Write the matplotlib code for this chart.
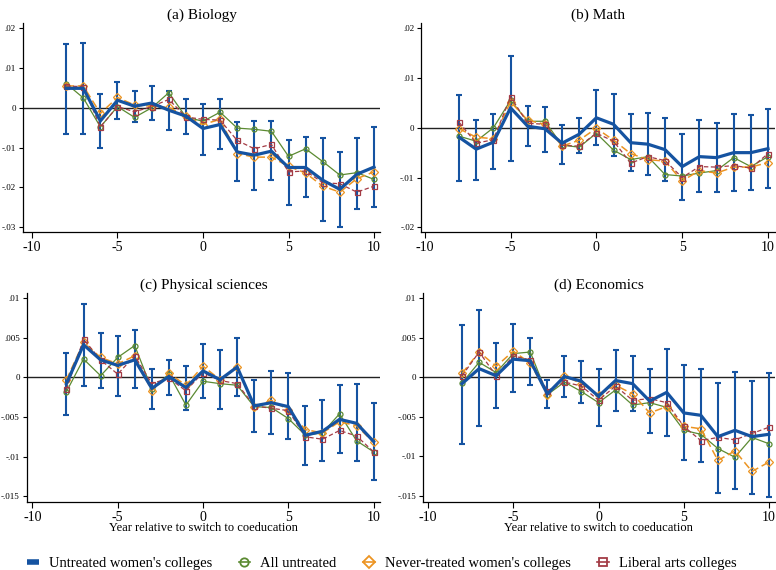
import matplotlib
matplotlib.use("Agg")
import matplotlib.pyplot as plt
from matplotlib.lines import Line2D
import numpy as np

plt.rcParams['font.family'] = ['Liberation Serif', 'DejaVu Serif']

years = list(range(-8, 11))

series_names = ["Untreated women's colleges", "All untreated",
                "Never-treated women's colleges", "Liberal arts colleges"]
panel_titles = ["(a) Biology", "(b) Math", "(c) Physical sciences", "(d) Economics"]
xlabel_text = "Year relative to switch to coeducation"

# ---- (a) Biology ----
bio_uwc = [0.0049, 0.0049, -0.0033, 0.0019, 0.0004, 0.0012, -0.0006, -0.0021, -0.0052, -0.0042,
           -0.0111, -0.0119, -0.0109, -0.0150, -0.0150, -0.0182, -0.0205, -0.0167, -0.0149]
bio_hi = [0.0161, 0.0163, 0.0034, 0.0066, 0.0043, 0.0056, 0.0043, 0.0023, 0.0010, 0.0022,
          -0.0036, -0.0034, -0.0034, -0.0080, -0.0074, -0.0077, -0.0110, -0.0077, -0.0048]
bio_lo = [-0.0065, -0.0066, -0.0101, -0.0029, -0.0036, -0.0030, -0.0055, -0.0065, -0.0118, -0.0103,
          -0.0185, -0.0206, -0.0182, -0.0245, -0.0225, -0.0285, -0.0300, -0.0255, -0.0250]
bio_all = [0.0061, 0.0025, -0.0048, 0.0003, -0.0024, 0.0000, 0.0038, -0.0023, -0.0034, -0.0011,
           -0.0051, -0.0054, -0.0059, -0.0122, -0.0103, -0.0135, -0.0169, -0.0163, -0.0180]
bio_never = [0.0055, 0.0055, -0.0014, 0.0026, 0.0007, 0.0004, 0.0001, -0.0021, -0.0042, -0.0029,
             -0.0115, -0.0124, -0.0124, -0.0147, -0.0164, -0.0197, -0.0212, -0.0178, -0.0161]
bio_lib = [0.0055, 0.0053, -0.0048, 0.0003, -0.0010, 0.0003, 0.0021, -0.0023, -0.0029, -0.0031,
           -0.0082, -0.0103, -0.0092, -0.0161, -0.0159, -0.0188, -0.0191, -0.0212, -0.0197]

# ---- (b) Math ----
math_uwc = [-0.0019, -0.0043, -0.0029, 0.0040, 0.0003, -0.0002, -0.0031, -0.0013, 0.0020, 0.0007,
            -0.0030, -0.0033, -0.0044, -0.0078, -0.0058, -0.0060, -0.0050, -0.0050, -0.0042]
math_hi = [0.0065, 0.0016, 0.0028, 0.0145, 0.0043, 0.0041, 0.0006, 0.0020, 0.0075, 0.0068,
           0.0028, 0.0029, 0.0019, -0.0012, 0.0016, 0.0009, 0.0027, 0.0026, 0.0038]
math_lo = [-0.0107, -0.0104, -0.0083, -0.0067, -0.0037, -0.0048, -0.0072, -0.0050, -0.0035, -0.0056,
           -0.0087, -0.0095, -0.0106, -0.0146, -0.0130, -0.0130, -0.0127, -0.0126, -0.0122]
math_all = [-0.0017, -0.0027, 0.0000, 0.0055, 0.0013, 0.0013, -0.0035, -0.0039, -0.0011, -0.0045,
            -0.0064, -0.0058, -0.0094, -0.0097, -0.0091, -0.0086, -0.0060, -0.0078, -0.0058]
math_never = [-0.0002, -0.0019, -0.0022, 0.0052, 0.0015, 0.0007, -0.0037, -0.0025, -0.0001, -0.0025,
              -0.0052, -0.0064, -0.0067, -0.0107, -0.0086, -0.0091, -0.0079, -0.0079, -0.0070]
math_lib = [0.0011, -0.0031, -0.0024, 0.0062, 0.0009, 0.0007, -0.0035, -0.0037, -0.0011, -0.0027,
            -0.0071, -0.0058, -0.0066, -0.0100, -0.0078, -0.0079, -0.0076, -0.0081, -0.0052]

# ---- (c) Physical sciences ----
phys_uwc = [-0.0008, 0.0041, 0.0022, 0.0015, 0.0022, -0.0014, 0.0001, -0.0013, 0.0008, -0.0003,
            0.0013, -0.0036, -0.0032, -0.0037, -0.0073, -0.0068, -0.0053, -0.0058, -0.0081]
phys_hi = [0.0031, 0.0092, 0.0056, 0.0052, 0.0059, 0.0011, 0.0022, 0.0014, 0.0042, 0.0035,
           0.0049, -0.0003, 0.0008, 0.0005, -0.0036, -0.0029, -0.0010, -0.0009, -0.0033]
phys_lo = [-0.0047, -0.0011, -0.0014, -0.0023, -0.0014, -0.0040, -0.0022, -0.0041, -0.0026, -0.0040,
           -0.0024, -0.0069, -0.0072, -0.0078, -0.0110, -0.0106, -0.0096, -0.0106, -0.0129]
phys_all = [-0.0018, 0.0023, 0.0002, 0.0025, 0.0040, -0.0015, 0.0004, -0.0035, -0.0005, -0.0008,
            -0.0010, -0.0037, -0.0038, -0.0052, -0.0073, -0.0070, -0.0046, -0.0080, -0.0094]
phys_never = [-0.0003, 0.0044, 0.0025, 0.0017, 0.0027, -0.0017, 0.0005, -0.0010, 0.0014, -0.0003,
              0.0013, -0.0037, -0.0029, -0.0041, -0.0066, -0.0070, -0.0056, -0.0061, -0.0082]
phys_lib = [-0.0015, 0.0048, 0.0022, 0.0004, 0.0027, -0.0008, -0.0001, -0.0017, 0.0006, -0.0004,
            -0.0008, -0.0036, -0.0039, -0.0042, -0.0075, -0.0078, -0.0067, -0.0074, -0.0094]

# ---- (d) Economics ----
econ_uwc = [-0.0008, 0.0011, 0.0002, 0.0023, 0.0021, -0.0021, 0.0001, -0.0005, -0.0024, -0.0004,
            -0.0008, -0.0030, -0.0019, -0.0045, -0.0048, -0.0075, -0.0067, -0.0075, -0.0072]
econ_hi = [0.0066, 0.0085, 0.0043, 0.0067, 0.0050, -0.0003, 0.0027, 0.0021, 0.0011, 0.0035,
           0.0027, 0.0011, 0.0036, 0.0015, 0.0011, -0.0007, 0.0007, -0.0005, 0.0006]
econ_lo = [-0.0084, -0.0062, -0.0039, -0.0019, -0.0010, -0.0039, -0.0025, -0.0032, -0.0062, -0.0043,
           -0.0043, -0.0071, -0.0074, -0.0105, -0.0107, -0.0146, -0.0141, -0.0147, -0.0151]
econ_all = [-0.0007, 0.0019, 0.0006, 0.0030, 0.0032, -0.0022, -0.0006, -0.0018, -0.0032, -0.0016,
            -0.0035, -0.0032, -0.0038, -0.0067, -0.0072, -0.0090, -0.0101, -0.0076, -0.0084]
econ_never = [0.0005, 0.0032, 0.0014, 0.0033, 0.0018, -0.0022, 0.0002, -0.0008, -0.0022, -0.0010,
              -0.0021, -0.0045, -0.0037, -0.0062, -0.0065, -0.0105, -0.0093, -0.0119, -0.0107]
econ_lib = [0.0002, 0.0032, 0.0002, 0.0027, 0.0022, -0.0017, -0.0006, -0.0011, -0.0029, -0.0011,
            -0.0029, -0.0027, -0.0032, -0.0062, -0.0080, -0.0076, -0.0079, -0.0071, -0.0063]

yticks_ab = [[0.02, 0.01, 0.0, -0.01, -0.02, -0.03], [0.02, 0.01, 0.0, -0.01, -0.02]]
ytick_labels_ab = [[".02", ".01", "0", "-.01", "-.02", "-.03"], [".02", ".01", "0", "-.01", "-.02"]]
yticks_cd = [0.01, 0.005, 0.0, -0.005, -0.01, -0.015]
ytick_labels_cd = [".01", ".005", "0", "-.005", "-.01", "-.015"]
xticks = [-10, -5, 0, 5, 10]
xtick_labels = ["-10", "-5", "0", "5", "10"]

panels = [
    (bio_uwc, bio_lo, bio_hi, bio_all, bio_never, bio_lib),
    (math_uwc, math_lo, math_hi, math_all, math_never, math_lib),
    (phys_uwc, phys_lo, phys_hi, phys_all, phys_never, phys_lib),
    (econ_uwc, econ_lo, econ_hi, econ_all, econ_never, econ_lib),
]
yt = [(yticks_ab[0], ytick_labels_ab[0]), (yticks_ab[1], ytick_labels_ab[1]),
      (yticks_cd, ytick_labels_cd), (yticks_cd, ytick_labels_cd)]

W, H = 776, 570
# layout (pixels): left, right, top, bottom ; xlim ; ylim
layout = [
    (22.9, 380.0, 22.7, 232.3, (-10.53, 10.35), (-0.0313, 0.0214)),
    (421.3, 774.7, 22.7, 232.3, (-10.2, 10.39), (-0.0210, 0.0211)),
    (26.7, 380.0, 292.7, 502.3, (-10.33, 10.37), (-0.01575, 0.01066)),
    (423.0, 774.7, 292.7, 502.3, (-10.29, 10.33), (-0.0158, 0.0107)),
]

BLUE = '#1553a1'
GREEN = '#5b8a32'
ORANGE = '#ec9422'
RED = '#a33b45'

fig = plt.figure(figsize=(W / 100, H / 100), dpi=100)
fig.patch.set_facecolor('white')

for i, (data, lay) in enumerate(zip(panels, layout)):
    uwc, lo, hi, allu, never, lib = data
    l, r, t, b, xl, yl = lay
    ax = fig.add_axes([l / W, 1 - b / H, (r - l) / W, (b - t) / H])
    ax.set_xlim(*xl)
    ax.set_ylim(*yl)
    ax.axhline(0, color='#222222', lw=1.0, zorder=1)
    uwc_a = np.array(uwc)
    ax.errorbar(years, uwc, yerr=[uwc_a - np.array(lo), np.array(hi) - uwc_a], fmt='none',
                ecolor=BLUE, elinewidth=1.5, capsize=2.3, capthick=1.5, zorder=3)
    ax.plot(years, allu, color=GREEN, lw=0.9, marker='o', ms=3.6, mfc='none', mec=GREEN,
            mew=0.9, zorder=4)
    ax.plot(years, never, color=ORANGE, lw=1.1, ls=(0, (5, 2.5)), marker='D', ms=3.8, mfc='none',
            mec=ORANGE, mew=0.9, zorder=4)
    ax.plot(years, lib, color=RED, lw=0.9, ls=(0, (3.5, 2)), marker='s', ms=3.6, mfc='none',
            mec=RED, mew=0.9, zorder=4)
    ax.plot(years, uwc, color=BLUE, lw=2.3, zorder=6, solid_joinstyle='miter')
    ax.set_title(panel_titles[i], fontsize=11, pad=3)
    ax.set_xticks(xticks)
    ax.set_xticklabels(xtick_labels, fontsize=10)
    ax.set_yticks(yt[i][0])
    ax.set_yticklabels(yt[i][1], fontsize=6.5)
    ax.tick_params(axis='x', direction='out', length=4, width=0.8, pad=2)
    ax.tick_params(axis='y', direction='out', length=3, width=0.8, pad=2)
    for s in ['top', 'right']:
        ax.spines[s].set_visible(False)
    for s in ['left', 'bottom']:
        ax.spines[s].set_linewidth(0.9)
    if i >= 2:
        ax.set_xlabel(xlabel_text, fontsize=9, labelpad=-1)

handles = [
    Line2D([0], [0], color=BLUE, lw=4, solid_capstyle='butt'),
    Line2D([0], [0], color=GREEN, lw=1.2, marker='o', ms=6, mfc='none', mec=GREEN, mew=1.3),
    Line2D([0], [0], color=ORANGE, lw=1.2, marker='D', ms=6.5, mfc='none', mec=ORANGE, mew=1.3),
    Line2D([0], [0], color=RED, lw=1.2, marker='s', ms=6, mfc='none', mec=RED, mew=1.3),
]
fig.legend(handles, series_names, loc='center', bbox_to_anchor=(0.492, 1 - 563 / H),
           ncol=4, frameon=False, fontsize=10.5, handlelength=0.8, handletextpad=0.7,
           columnspacing=1.8)

fig.savefig('out.png', dpi=100)
